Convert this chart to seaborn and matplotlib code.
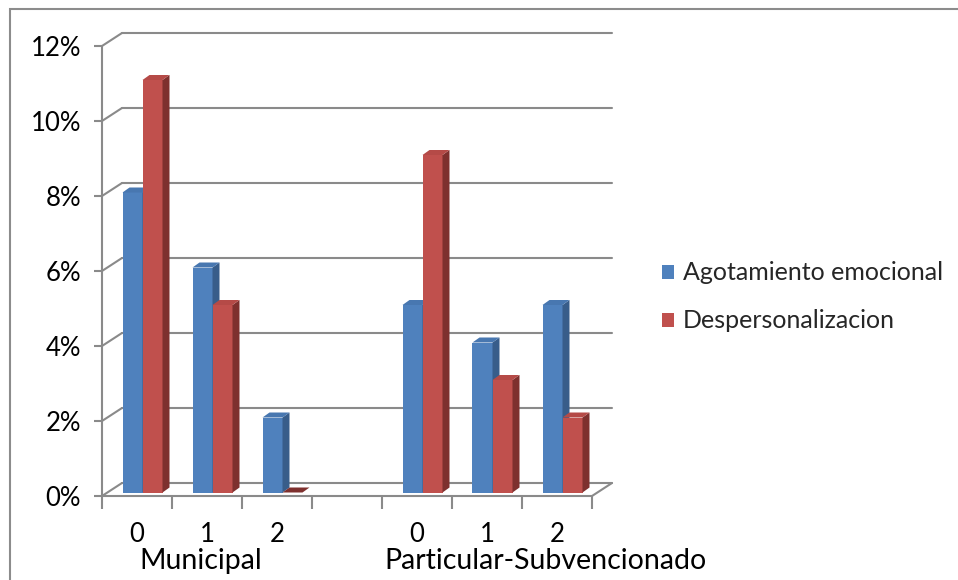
import matplotlib
matplotlib.use("Agg")
import matplotlib.pyplot as plt
import numpy as np
import pandas as pd
import seaborn as sns
from matplotlib.transforms import Affine2D, IdentityTransform
from matplotlib.patches import Polygon, Rectangle, Patch
from matplotlib.lines import Line2D

# ---- data -------------------------------------------------------------
groups = ["Municipal", "Particular-Subvencionado"]
levels = ["0", "1", "2"]
series = ["Agotamiento emocional", "Despersonalizacion"]
agotamiento = [8, 6, 2, 5, 4, 5]          # %
despersonalizacion = [11, 5, 0, 9, 3, 2]  # %
y_ticks = [0, 2, 4, 6, 8, 10, 12]         # %

slots = [f"{g}|{l}" for g in groups for l in levels]
order = slots[:3] + ["sep"] + slots[3:]   # empty slot between the two groups

df = pd.DataFrame({
    "slot": slots * 2,
    "serie": [series[0]] * len(slots) + [series[1]] * len(slots),
    "valor": np.array(agotamiento + despersonalizacion) / 100.0,
})

# ---- style ------------------------------------------------------------
sns.set_theme(style="white")
FONT = ["Lato", "DejaVu Sans"]
plt.rcParams["font.family"] = FONT
FS = 18
FS_TICK = 18.5
FS_GROUP = 20.5
GRID = "#8a8a8a"

front = {series[0]: "#4F81BD", series[1]: "#C0504D"}
side = {series[0]: "#385D8A", series[1]: "#7E302E"}
top = {series[0]: "#4877B0", series[1]: "#B54A47"}

fig = plt.figure(figsize=(9.58, 5.80), dpi=100)
W, H = 958, 580
# axes rectangle = front plane of the 3-D box (pixel geometry)
ax = fig.add_axes([102 / W, (H - 496) / H, 490 / W, 450 / H])

sns.barplot(data=df, x="slot", y="valor", hue="serie", order=order,
            hue_order=series, palette=[front[s] for s in series],
            width=4 / 7, saturation=1, linewidth=0, legend=False, ax=ax)

ax.set_xlim(-0.5, len(order) - 0.5)
ax.set_ylim(0, y_ticks[-1] / 100)
ax.set_xlabel("")
ax.set_ylabel("")
for sp in ax.spines.values():
    sp.set_visible(False)
ax.patch.set_alpha(0)

# depth of the box and of the columns, in pixels
WALL = (20, 13)
BAR_SHIFT = (5.5, 3.5)
BAR_DEPTH = (7, 5)

def px(x, y):
    return ax.transData.transform((x, y))

ident = IdentityTransform()

# back wall gridlines
x_lo, x_hi = ax.get_xlim()
for t in y_ticks:
    v = t / 100
    a = px(x_lo, v) + WALL
    b = px(x_hi, v) + WALL
    ax.add_line(Line2D([a[0], b[0]], [a[1], b[1]], transform=ident,
                       color=GRID, lw=1.5, zorder=0.5, clip_on=False))
    # left wall diagonals
    f = px(x_lo, v)
    ax.add_line(Line2D([f[0], a[0]], [f[1], a[1]], transform=ident,
                       color=GRID, lw=1.5, zorder=0.5, clip_on=False))
# right edge of the floor
f = px(x_hi, 0)
b = f + WALL
ax.add_line(Line2D([f[0], b[0]], [f[1], b[1]], transform=ident,
                   color=GRID, lw=1.5, zorder=0.5, clip_on=False))
# front axis lines
p0, p1 = px(x_lo, 0), px(x_lo, y_ticks[-1] / 100)
ax.add_line(Line2D([p0[0], p1[0]], [p0[1], p1[1]], transform=ident,
                   color=GRID, lw=1.5, zorder=6, clip_on=False))
q1 = px(x_hi, 0)
ax.add_line(Line2D([p0[0], q1[0]], [p0[1], q1[1]], transform=ident,
                   color=GRID, lw=1.5, zorder=6, clip_on=False))

# 3-D columns: shift the front faces and add side / top faces
bars = [p for p in ax.patches if isinstance(p, Rectangle)]
hue_of = {}
for p in bars:
    fc = matplotlib.colors.to_hex(p.get_facecolor())
    hue_of[id(p)] = series[0] if fc.lower() == front[series[0]].lower() else series[1]
bars.sort(key=lambda p: p.get_x())
shift = Affine2D().translate(*BAR_SHIFT)
for i, p in enumerate(bars):
    z = 2 + i * 0.01
    s = hue_of[id(p)]
    x0, w, h = p.get_x(), p.get_width(), p.get_height()
    p.set_transform(ax.transData + shift)
    p.set_zorder(z)
    p.set_clip_on(False)
    br = px(x0 + w, 0) + BAR_SHIFT
    tl = px(x0, h) + BAR_SHIFT
    tr = px(x0 + w, h) + BAR_SHIFT
    d = np.array(BAR_DEPTH)
    if h > 0:
        ax.add_patch(Polygon([br, tr, tr + d, br + d], closed=True,
                             transform=ident, facecolor=side[s], lw=0,
                             zorder=z, clip_on=False))
    ax.add_patch(Polygon([tl, tr, tr + d, tl + d], closed=True,
                         transform=ident, facecolor=top[s] if h > 0 else side[s],
                         lw=0, zorder=z, clip_on=False))

# y ticks
ax.set_yticks([t / 100 for t in y_ticks])
ax.set_yticklabels([f"{t}%" for t in y_ticks], fontsize=FS_TICK, color="black")
ax.tick_params(axis="y", length=6, width=1.5, color=GRID, pad=9, left=True)

# x ticks at slot boundaries, labels at slot centres
ax.set_xticks(np.arange(len(order) + 1) - 0.5, minor=True)
ax.set_xticks(range(len(order)))
ax.set_xticklabels([s.split("|")[1] if "|" in s else "" for s in order],
                   fontsize=FS_TICK, color="black")
ax.tick_params(axis="x", which="major", length=0, pad=19)
ax.tick_params(axis="x", which="minor", length=9, width=1.5, color=GRID,
               bottom=True)

# group labels
ax.text(0.914, -0.145, groups[0], transform=ax.get_xaxis_transform(),
        ha="center", va="center", fontsize=FS_GROUP, color="black")
ax.text(5.84, -0.145, groups[1], transform=ax.get_xaxis_transform(),
        ha="center", va="center", fontsize=FS_GROUP, color="black")

# legend
handles = [Patch(facecolor=front[s], edgecolor="none", label=s) for s in series]
fig.legend(handles=handles, loc="center left",
           bbox_to_anchor=(639 / W, 1 - 297 / H), frameon=False,
           fontsize=FS, handlelength=0.5, handleheight=0.5,
           handletextpad=0.35, labelspacing=1.0)

# chart area border
fig.add_artist(Rectangle((10 / W, -0.1), 2.0, 1 - 9 / H + 0.1,
                         transform=fig.transFigure, fill=False,
                         edgecolor="#8c8c8c", lw=1.5))

fig.savefig("out.png", dpi=100)
